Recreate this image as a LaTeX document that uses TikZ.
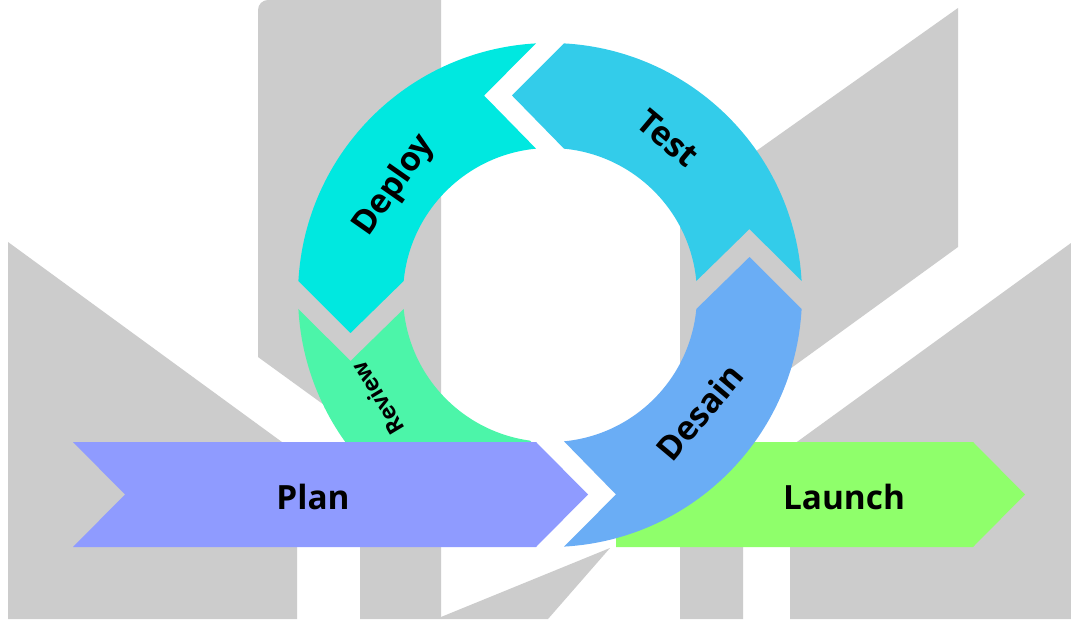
\documentclass[tikz,border=0pt]{standalone}
\usepackage{fontspec}
\setsansfont{Open Sans}
\usepackage{tikz}
\usepackage{xcolor}

\definecolor{bggray}{HTML}{CCCCCC}
\definecolor{deploycol}{HTML}{00E8E0}
\definecolor{testcol}{HTML}{33CCEA}
\definecolor{desaincol}{HTML}{6AADF5}
\definecolor{reviewcol}{HTML}{4CF5A9}
\definecolor{plancol}{HTML}{8F9BFF}
\definecolor{launchcol}{HTML}{8FFF6B}

\tikzset{
  biglabel/.style={font=\sffamily\bfseries\fontsize{19}{23}\selectfont, text=black, inner sep=0pt},
  smalllabel/.style={font=\sffamily\bfseries\fontsize{13}{16}\selectfont, text=black, inner sep=0pt},
}

\begin{document}
\begin{tikzpicture}[x=0.02cm, y=0.02cm]
            \useasboundingbox (0,0) rectangle (1071,619);
            \fill[white] (0,0) rectangle (1071,619);
            \fill[bggray] (8,0) -- (8,377) -- (297,166) -- (297,0) -- cycle;
            \fill[bggray] (360,0) -- (360,188) -- (258,262) -- (258,609)
                arc[start angle=180, end angle=90, radius=10] -- (441,619) -- (441,0) -- cycle;
            \fill[bggray] (441,0) -- (441,2) -- (610,71) -- (548,0) -- cycle;
            \fill[bggray] (680,0) -- (680,414) -- (958,611) -- (958,372) -- (743,216) -- (743,0) -- cycle;
            \fill[bggray] (790,0) -- (790,172) -- (1071,376) -- (1071,0) -- cycle;
            \begin{scope}[shift={(550,324)}]
                \fill[reviewcol] (183.185:252) arc[start angle=183.185, end angle=265.448, radius=252]
                    -- (279.113:202.05) -- (262.18:147)
                    arc[start angle=262.18, end angle=185.465, radius=147]
                    -- (198.30:210.1) -- cycle;
            \end{scope}
            \fill[plancol] (73,177) -- (536,177) -- (588,124.5) -- (536,72) -- (73,72) -- (125,124.5) -- cycle;
            \fill[launchcol] (616,177) -- (973,177) -- (1025,124.5) -- (973,72) -- (616,72) -- cycle;
            \begin{scope}[shift={(550,324)}]
                \fill[desaincol] (273.185:252) arc[start angle=273.185, end angle=356.815, radius=252]
                    -- (370.784:203.1) -- (354.535:147)
                    arc[start angle=354.535, end angle=275.465, radius=147]
                    -- (288.30:210.1) -- cycle;
                \fill[testcol] (3.185:252) arc[start angle=3.185, end angle=86.815, radius=252]
                    -- (100.784:203.1) -- (84.535:147)
                    arc[start angle=84.535, end angle=5.465, radius=147]
                    -- (18.30:210.1) -- cycle;
                \fill[deploycol] (93.185:252) arc[start angle=93.185, end angle=176.815, radius=252]
                    -- (190.784:203.1) -- (174.535:147)
                    arc[start angle=174.535, end angle=95.465, radius=147]
                    -- (108.30:210.1) -- cycle;
                \node[biglabel, rotate=55] (deploy) at (145:190) {Deploy};
                \node[biglabel, rotate=-40] (test) at (53:196) {Test};
                \node[biglabel, rotate=50] (desain) at (-38:190) {Desain};
                \node[smalllabel, rotate=121] (review) at (211:201) {Review};
            \end{scope}
            \node[biglabel] (plan) at (313,122) {Plan};
            \node[biglabel] (launch) at (844,122) {Launch};
        \end{tikzpicture}
\end{document}
